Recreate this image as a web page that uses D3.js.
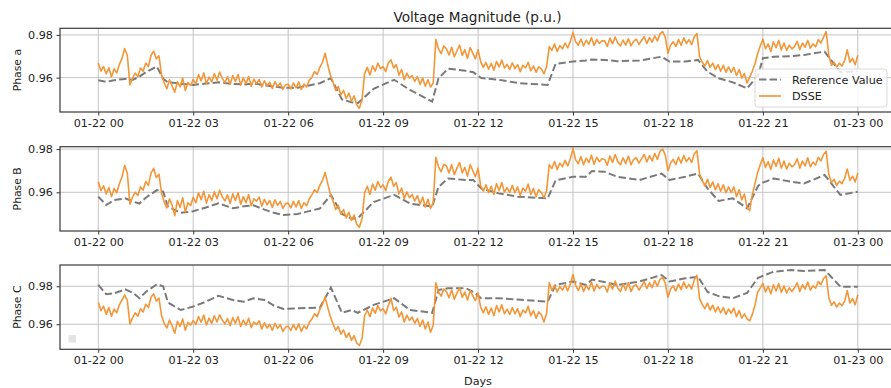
<!DOCTYPE html>
<html>
<head>
<meta charset="utf-8">
<script src="https://cdn.jsdelivr.net/npm/d3@7"></script>
<style>
  body { margin: 0; background: #fff; }
  svg { display: block; font-family: "DejaVu Sans", sans-serif; }
</style>
</head>
<body>
<svg id="chart" width="891" height="388"></svg>
<script>
// ---- data ---------------------------------------------------------------
const phaseNames = ["Phase a", "Phase B", "Phase C"];
const seriesNames = ["Reference Value", "DSSE"];
const yTickValues = [0.96, 0.98];
const xTickStepHours = 3;

// knot times (hours after 01-22 00:00) of the reference profile
const refHours = [0, 0.25, 0.5, 0.85, 1.1, 1.3, 1.5, 1.85, 2.05, 2.2, 2.6, 3.0, 3.4, 3.8, 4.25, 4.6, 4.9,
  5.25, 5.55, 5.85, 6.3, 7.0, 7.35, 7.7, 8.0, 8.2, 8.7, 9.35, 9.85, 10.55, 10.75, 11.05, 11.6, 11.85,
  12.1, 12.65, 13.25, 13.7, 14.2, 14.45, 15.0, 15.4, 15.6, 16.0, 16.4, 17.1, 17.8, 18.05, 18.55, 18.95,
  19.25, 19.6, 20.05, 20.5, 20.85, 21.0, 21.35, 21.9, 22.3, 22.95, 23.45, 24];

const refA = [0.9588, 0.9580, 0.9588, 0.9594, 0.9590, 0.9605, 0.9625, 0.9652, 0.9595, 0.9578, 0.9572, 0.9566,
  0.9572, 0.9578, 0.9570, 0.9568, 0.9572, 0.9565, 0.9558, 0.9553, 0.9553, 0.9574, 0.9597, 0.9498, 0.9485,
  0.9480, 0.9548, 0.9590, 0.9542, 0.9488, 0.9597, 0.9642, 0.9632, 0.9625, 0.9598, 0.9590, 0.9575, 0.9570,
  0.9566, 0.9665, 0.9675, 0.9680, 0.9685, 0.9683, 0.9677, 0.9680, 0.9698, 0.9675, 0.9675, 0.9683, 0.9628,
  0.9597, 0.9578, 0.9550, 0.9610, 0.9691, 0.9698, 0.9700, 0.9706, 0.9722, 0.9625, 0.9630];

const refB = [0.9580, 0.9541, 0.9564, 0.9572, 0.9557, 0.9548, 0.9575, 0.9610, 0.9603, 0.9534, 0.9505, 0.9512,
  0.9530, 0.9549, 0.9526, 0.9535, 0.9540, 0.9520, 0.9505, 0.9495, 0.9500, 0.9525, 0.9588, 0.9500, 0.9478,
  0.9480, 0.9555, 0.9588, 0.9548, 0.9534, 0.9625, 0.9664, 0.9657, 0.9657, 0.9618, 0.9595, 0.9580, 0.9576,
  0.9572, 0.9655, 0.9672, 0.9672, 0.9698, 0.9695, 0.9672, 0.9657, 0.9687, 0.9657, 0.9672, 0.9687, 0.9618,
  0.9560, 0.9572, 0.9526, 0.9630, 0.9645, 0.9664, 0.9649, 0.9641, 0.9680, 0.9588, 0.9603];

const refC = [0.9807, 0.9758, 0.9763, 0.9784, 0.9765, 0.9737, 0.9770, 0.9810, 0.9800, 0.9715, 0.9675, 0.9693,
  0.9719, 0.9750, 0.9728, 0.9719, 0.9737, 0.9728, 0.9698, 0.9680, 0.9684, 0.9687, 0.9793, 0.9660, 0.9675,
  0.9660, 0.9702, 0.9737, 0.9675, 0.9660, 0.9780, 0.9790, 0.9790, 0.9770, 0.9737, 0.9737, 0.9730, 0.9725,
  0.9719, 0.9807, 0.9825, 0.9807, 0.9835, 0.9822, 0.9807, 0.9825, 0.9859, 0.9825, 0.9842, 0.9850, 0.9770,
  0.9748, 0.9737, 0.9765, 0.9845, 0.9855, 0.9877, 0.9886, 0.9880, 0.9886, 0.9798, 0.9798];

// state-estimation output, one value every 5 minutes from 01-22 00:00 to 01-23 00:00
// (one row per hour)
const dsseStepMinutes = 5;

const dsseA = [
  0.9668, 0.9631, 0.9652, 0.9618, 0.9646, 0.9603, 0.9641, 0.9622, 0.9662, 0.9690, 0.9736, 0.9705,
  0.9566, 0.9598, 0.9621, 0.9605, 0.9645, 0.9630, 0.9668, 0.9652, 0.9705, 0.9724, 0.9688, 0.9702,
  0.9612, 0.9575, 0.9548, 0.9590, 0.9561, 0.9532, 0.9581, 0.9556, 0.9598, 0.9540, 0.9577, 0.9563,
  0.9592, 0.9570, 0.9614, 0.9585, 0.9622, 0.9571, 0.9603, 0.9580, 0.9618, 0.9588, 0.9626, 0.9598,
  0.9577, 0.9604, 0.9568, 0.9610, 0.9582, 0.9615, 0.9565, 0.9598, 0.9572, 0.9605, 0.9560, 0.9593,
  0.9572, 0.9592, 0.9556, 0.9585, 0.9561, 0.9578, 0.9549, 0.9581, 0.9558, 0.9575, 0.9545, 0.9567,
  0.9569, 0.9548, 0.9575, 0.9552, 0.9580, 0.9545, 0.9570, 0.9556, 0.9588, 0.9602, 0.9628, 0.9615,
  0.9648, 0.9672, 0.9714, 0.9660, 0.9612, 0.9578, 0.9541, 0.9558, 0.9519, 0.9540, 0.9502, 0.9528,
  0.9490, 0.9515, 0.9472, 0.9457, 0.9495, 0.9620, 0.9648, 0.9612, 0.9655, 0.9630, 0.9668, 0.9642,
  0.9652, 0.9628, 0.9670, 0.9683, 0.9645, 0.9661, 0.9612, 0.9638, 0.9590, 0.9621, 0.9598, 0.9610,
  0.9582, 0.9605, 0.9568, 0.9598, 0.9560, 0.9590, 0.9556, 0.9575, 0.9779, 0.9735, 0.9712, 0.9748,
  0.9735, 0.9706, 0.9742, 0.9698, 0.9726, 0.9752, 0.9704, 0.9731, 0.9690, 0.9741, 0.9715, 0.9688,
  0.9730, 0.9675, 0.9648, 0.9671, 0.9640, 0.9667, 0.9635, 0.9676, 0.9650, 0.9682, 0.9645, 0.9662,
  0.9638, 0.9669, 0.9642, 0.9661, 0.9628, 0.9658, 0.9646, 0.9672, 0.9632, 0.9655, 0.9625, 0.9650,
  0.9641, 0.9618, 0.9652, 0.9745, 0.9728, 0.9758, 0.9722, 0.9750, 0.9735, 0.9762, 0.9739, 0.9770,
  0.9812, 0.9768, 0.9752, 0.9781, 0.9748, 0.9775, 0.9756, 0.9788, 0.9750, 0.9779, 0.9760, 0.9772,
  0.9772, 0.9746, 0.9785, 0.9758, 0.9790, 0.9762, 0.9748, 0.9776, 0.9752, 0.9782, 0.9749, 0.9770,
  0.9781, 0.9755, 0.9774, 0.9792, 0.9760, 0.9788, 0.9766, 0.9795, 0.9772, 0.9805, 0.9815, 0.9790,
  0.9714, 0.9752, 0.9768, 0.9745, 0.9779, 0.9752, 0.9786, 0.9760, 0.9778, 0.9755, 0.9792, 0.9806,
  0.9698, 0.9672, 0.9655, 0.9680, 0.9648, 0.9668, 0.9638, 0.9661, 0.9630, 0.9658, 0.9625, 0.9650,
  0.9624, 0.9648, 0.9610, 0.9638, 0.9598, 0.9620, 0.9575, 0.9602, 0.9630, 0.9665, 0.9712, 0.9748,
  0.9780, 0.9735, 0.9758, 0.9722, 0.9768, 0.9740, 0.9775, 0.9730, 0.9762, 0.9728, 0.9752, 0.9735,
  0.9745, 0.9770, 0.9731, 0.9762, 0.9742, 0.9775, 0.9738, 0.9758, 0.9745, 0.9778, 0.9762, 0.9790,
  0.9815, 0.9705, 0.9658, 0.9672, 0.9650, 0.9668, 0.9655, 0.9680, 0.9730, 0.9672, 0.9690, 0.9660,
  0.9705];

const dsseB = [
  0.9649, 0.9608, 0.9630, 0.9592, 0.9622, 0.9580, 0.9618, 0.9598, 0.9640, 0.9672, 0.9724, 0.9690,
  0.9545, 0.9578, 0.9600, 0.9585, 0.9625, 0.9610, 0.9650, 0.9632, 0.9690, 0.9711, 0.9668, 0.9684,
  0.9595, 0.9555, 0.9528, 0.9570, 0.9540, 0.9492, 0.9562, 0.9530, 0.9575, 0.9510, 0.9552, 0.9538,
  0.9577, 0.9552, 0.9598, 0.9566, 0.9605, 0.9550, 0.9589, 0.9562, 0.9603, 0.9570, 0.9610, 0.9580,
  0.9560, 0.9588, 0.9548, 0.9593, 0.9562, 0.9598, 0.9545, 0.9580, 0.9552, 0.9590, 0.9538, 0.9570,
  0.9559, 0.9578, 0.9536, 0.9568, 0.9542, 0.9562, 0.9530, 0.9565, 0.9540, 0.9558, 0.9525, 0.9548,
  0.9550, 0.9528, 0.9558, 0.9532, 0.9562, 0.9525, 0.9552, 0.9538, 0.9570, 0.9588, 0.9612, 0.9598,
  0.9632, 0.9655, 0.9692, 0.9640, 0.9592, 0.9560, 0.9520, 0.9540, 0.9498, 0.9520, 0.9482, 0.9508,
  0.9470, 0.9495, 0.9452, 0.9438, 0.9478, 0.9598, 0.9628, 0.9590, 0.9638, 0.9610, 0.9650, 0.9622,
  0.9635, 0.9608, 0.9652, 0.9670, 0.9628, 0.9645, 0.9592, 0.9620, 0.9570, 0.9602, 0.9575, 0.9590,
  0.9560, 0.9585, 0.9545, 0.9578, 0.9532, 0.9568, 0.9525, 0.9552, 0.9762, 0.9718, 0.9695, 0.9730,
  0.9722, 0.9690, 0.9728, 0.9682, 0.9712, 0.9738, 0.9690, 0.9715, 0.9675, 0.9728, 0.9700, 0.9672,
  0.9712, 0.9630, 0.9605, 0.9635, 0.9598, 0.9628, 0.9590, 0.9640, 0.9608, 0.9645, 0.9600, 0.9622,
  0.9600, 0.9632, 0.9598, 0.9625, 0.9585, 0.9620, 0.9605, 0.9638, 0.9590, 0.9618, 0.9580, 0.9612,
  0.9598, 0.9575, 0.9608, 0.9728, 0.9710, 0.9742, 0.9705, 0.9735, 0.9718, 0.9748, 0.9722, 0.9755,
  0.9802, 0.9750, 0.9732, 0.9765, 0.9728, 0.9758, 0.9738, 0.9772, 0.9730, 0.9762, 0.9742, 0.9755,
  0.9752, 0.9725, 0.9768, 0.9738, 0.9775, 0.9742, 0.9728, 0.9760, 0.9732, 0.9768, 0.9727, 0.9752,
  0.9760, 0.9735, 0.9755, 0.9775, 0.9740, 0.9770, 0.9745, 0.9780, 0.9752, 0.9790, 0.9800, 0.9772,
  0.9700, 0.9735, 0.9752, 0.9728, 0.9762, 0.9735, 0.9770, 0.9742, 0.9760, 0.9738, 0.9778, 0.9792,
  0.9685, 0.9655, 0.9630, 0.9660, 0.9622, 0.9648, 0.9612, 0.9640, 0.9605, 0.9635, 0.9598, 0.9625,
  0.9598, 0.9625, 0.9580, 0.9612, 0.9565, 0.9592, 0.9530, 0.9515, 0.9590, 0.9640, 0.9692, 0.9728,
  0.9760, 0.9715, 0.9742, 0.9705, 0.9750, 0.9720, 0.9758, 0.9712, 0.9745, 0.9708, 0.9735, 0.9718,
  0.9728, 0.9755, 0.9712, 0.9745, 0.9722, 0.9760, 0.9718, 0.9740, 0.9726, 0.9762, 0.9745, 0.9775,
  0.9790, 0.9682, 0.9645, 0.9660, 0.9632, 0.9652, 0.9640, 0.9665, 0.9708, 0.9655, 0.9675, 0.9648,
  0.9690];

const dsseC = [
  0.9716, 0.9672, 0.9695, 0.9652, 0.9688, 0.9642, 0.9680, 0.9660, 0.9702, 0.9728, 0.9754, 0.9725,
  0.9602, 0.9635, 0.9660, 0.9642, 0.9682, 0.9665, 0.9705, 0.9688, 0.9742, 0.9760, 0.9722, 0.9738,
  0.9645, 0.9605, 0.9580, 0.9622, 0.9592, 0.9552, 0.9615, 0.9588, 0.9628, 0.9568, 0.9610, 0.9595,
  0.9620, 0.9598, 0.9641, 0.9610, 0.9648, 0.9596, 0.9632, 0.9605, 0.9645, 0.9612, 0.9650, 0.9622,
  0.9602, 0.9630, 0.9592, 0.9635, 0.9605, 0.9640, 0.9588, 0.9622, 0.9595, 0.9632, 0.9582, 0.9612,
  0.9598, 0.9618, 0.9575, 0.9608, 0.9580, 0.9600, 0.9568, 0.9605, 0.9578, 0.9598, 0.9562, 0.9585,
  0.9590, 0.9568, 0.9598, 0.9570, 0.9602, 0.9562, 0.9592, 0.9575, 0.9610, 0.9628, 0.9655, 0.9640,
  0.9678, 0.9705, 0.9742, 0.9688, 0.9640, 0.9602, 0.9568, 0.9588, 0.9548, 0.9570, 0.9530, 0.9555,
  0.9515, 0.9540, 0.9500, 0.9488, 0.9525, 0.9646, 0.9675, 0.9640, 0.9685, 0.9658, 0.9698, 0.9670,
  0.9682, 0.9655, 0.9700, 0.9737, 0.9672, 0.9690, 0.9638, 0.9665, 0.9612, 0.9648, 0.9620, 0.9638,
  0.9605, 0.9630, 0.9588, 0.9622, 0.9575, 0.9612, 0.9558, 0.9595, 0.9818, 0.9770, 0.9748, 0.9785,
  0.9772, 0.9740, 0.9780, 0.9732, 0.9765, 0.9792, 0.9742, 0.9770, 0.9728, 0.9778, 0.9750, 0.9725,
  0.9765, 0.9690, 0.9660, 0.9692, 0.9652, 0.9685, 0.9645, 0.9698, 0.9665, 0.9702, 0.9655, 0.9680,
  0.9652, 0.9688, 0.9655, 0.9682, 0.9640, 0.9675, 0.9660, 0.9695, 0.9645, 0.9672, 0.9632, 0.9665,
  0.9650, 0.9612, 0.9658, 0.9820, 0.9778, 0.9805, 0.9770, 0.9798, 0.9780, 0.9808, 0.9776, 0.9812,
  0.9862, 0.9805, 0.9778, 0.9812, 0.9772, 0.9805, 0.9782, 0.9822, 0.9775, 0.9810, 0.9788, 0.9800,
  0.9800, 0.9770, 0.9818, 0.9785, 0.9828, 0.9790, 0.9772, 0.9812, 0.9780, 0.9820, 0.9772, 0.9802,
  0.9808, 0.9780, 0.9801, 0.9825, 0.9788, 0.9818, 0.9792, 0.9830, 0.9800, 0.9838, 0.9847, 0.9815,
  0.9742, 0.9785, 0.9802, 0.9775, 0.9812, 0.9782, 0.9822, 0.9790, 0.9810, 0.9785, 0.9835, 0.9858,
  0.9735, 0.9705, 0.9682, 0.9712, 0.9675, 0.9700, 0.9665, 0.9692, 0.9660, 0.9688, 0.9652, 0.9680,
  0.9658, 0.9685, 0.9640, 0.9672, 0.9632, 0.9655, 0.9628, 0.9618, 0.9652, 0.9700, 0.9768, 0.9790,
  0.9815, 0.9770, 0.9800, 0.9760, 0.9808, 0.9775, 0.9815, 0.9768, 0.9802, 0.9765, 0.9792, 0.9772,
  0.9792, 0.9818, 0.9772, 0.9808, 0.9785, 0.9822, 0.9780, 0.9802, 0.9790, 0.9825, 0.9808, 0.9840,
  0.9855, 0.9740, 0.9700, 0.9718, 0.9690, 0.9712, 0.9698, 0.9722, 0.9777, 0.9712, 0.9735, 0.9702,
  0.9755];

// ---- layout -------------------------------------------------------------
const W = 891, H = 388;
const plotLeft = 60, plotRight = 892;
const panelTops = [28.3, 146.7, 265];
const panelBottoms = [112, 231, 349.3];
const yLimits = [[0.9439, 0.9831], [0.9421, 0.9811], [0.9468, 0.9912]];

const refColor = "#7a7a7a";
const dsseColor = "#f39638";
const gridColor = "#bdbdbd";
const textColor = "#1e1e1e";

const HOUR = 3600 * 1000;
const t0 = Date.UTC(2020, 0, 22, 0, 0, 0);

const x = d3.scaleUtc()
  .domain([new Date(t0 - 1.21 * HOUR), new Date(t0 + 25.08 * HOUR)])
  .range([plotLeft, plotRight]);

const svg = d3.select("#chart");
svg.append("rect").attr("width", W).attr("height", H).attr("fill", "#fff");

const refSeries = [refA, refB, refC];
const dsseSeries = [dsseA, dsseB, dsseC];

phaseNames.forEach((name, p) => {
  const top = panelTops[p], bottom = panelBottoms[p];
  const y = d3.scaleLinear().domain(yLimits[p]).range([bottom, top]);
  const g = svg.append("g");

  const clipId = "clip" + p;
  svg.append("clipPath").attr("id", clipId)
    .append("rect").attr("x", plotLeft).attr("y", top)
    .attr("width", plotRight - plotLeft).attr("height", bottom - top);

  // grid
  const xTicks = x.ticks(d3.utcHour.every(xTickStepHours));
  g.append("g").selectAll("line").data(xTicks).join("line")
    .attr("x1", d => x(d)).attr("x2", d => x(d))
    .attr("y1", top).attr("y2", bottom)
    .attr("stroke", gridColor).attr("stroke-width", 0.9);
  g.append("g").selectAll("line").data(yTickValues).join("line")
    .attr("x1", plotLeft).attr("x2", plotRight)
    .attr("y1", d => y(d)).attr("y2", d => y(d))
    .attr("stroke", gridColor).attr("stroke-width", 0.9);

  // series
  const plot = g.append("g").attr("clip-path", `url(#${clipId})`);
  const refPts = refHours.map((h, i) => [new Date(t0 + h * HOUR), refSeries[p][i]]);
  const dssePts = dsseSeries[p].map((v, i) => [new Date(t0 + i * dsseStepMinutes * 60000), v]);
  const line = d3.line().x(d => x(d[0])).y(d => y(d[1]));

  plot.append("path").datum(refPts)
    .attr("d", line).attr("fill", "none")
    .attr("stroke", refColor).attr("stroke-width", 2)
    .attr("stroke-dasharray", "7.4,3.2");
  plot.append("path").datum(dssePts)
    .attr("d", line).attr("fill", "none")
    .attr("stroke", dsseColor).attr("stroke-width", 1.6)
    .attr("stroke-linejoin", "round");

  // axes
  const xAxis = d3.axisBottom(x)
    .ticks(d3.utcHour.every(xTickStepHours))
    .tickFormat(d3.utcFormat("%m-%d %H"))
    .tickSize(3.5).tickPadding(3.5);
  const gx = g.append("g").attr("transform", `translate(0,${bottom})`).call(xAxis);
  const yAxis = d3.axisLeft(y).tickValues(yTickValues)
    .tickFormat(d3.format(".2f")).tickSize(3.5).tickPadding(3.5);
  const gy = g.append("g").attr("transform", `translate(${plotLeft},0)`).call(yAxis);
  [gx, gy].forEach(a => {
    a.select(".domain").remove();
    a.selectAll(".tick line").attr("stroke", "#333").attr("stroke-width", 1);
    a.selectAll(".tick text").attr("fill", textColor)
      .attr("font-family", "DejaVu Sans, sans-serif").attr("font-size", 11.2);
  });

  // frame
  g.append("rect").attr("x", plotLeft).attr("y", top)
    .attr("width", plotRight - plotLeft).attr("height", bottom - top)
    .attr("fill", "none").attr("stroke", "#3a3a3a").attr("stroke-width", 1.2);

  // phase label
  g.append("text")
    .attr("transform", `translate(20.5,${(top + bottom) / 2}) rotate(-90)`)
    .attr("text-anchor", "middle")
    .attr("font-size", 10.8).attr("fill", textColor)
    .text(name);

  if (p === 0) {
    // legend
    const lg = g.append("g").attr("transform", "translate(755,69)");
    lg.append("rect").attr("width", 132).attr("height", 38).attr("rx", 3)
      .attr("fill", "#fff").attr("fill-opacity", 0.82)
      .attr("stroke", "#d6d6d6").attr("stroke-width", 0.9);
    const styles = [
      { color: refColor, width: 2, dash: "7.4,3.2" },
      { color: dsseColor, width: 1.7, dash: null }
    ];
    seriesNames.forEach((s, i) => {
      const yy = 10.5 + i * 16.5;
      lg.append("line").attr("x1", 4).attr("x2", 26).attr("y1", yy).attr("y2", yy)
        .attr("stroke", styles[i].color).attr("stroke-width", styles[i].width)
        .attr("stroke-dasharray", styles[i].dash);
      lg.append("text").attr("x", 37).attr("y", yy + 4)
        .attr("font-size", 11.2).attr("fill", textColor).text(s);
    });
  }

  if (p === 2) {
    // small empty legend marker in the lower-left corner
    g.append("rect").attr("x", 68.5).attr("y", 335).attr("width", 7.5).attr("height", 7.5)
      .attr("fill", "#e4e4e4");
  }
});

// title and x label
svg.append("text").attr("x", 477.5).attr("y", 21.5).attr("text-anchor", "middle")
  .attr("font-size", 13.6).attr("fill", textColor).text("Voltage Magnitude (p.u.)");
svg.append("text").attr("x", 478).attr("y", 385).attr("text-anchor", "middle")
  .attr("font-size", 11.2).attr("fill", textColor).text("Days");
</script>
</body>
</html>
